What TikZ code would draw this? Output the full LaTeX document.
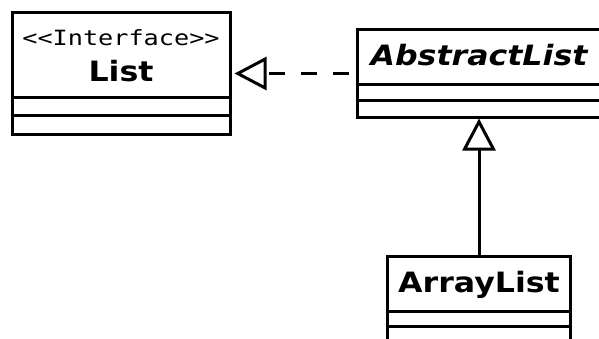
\documentclass[tikz,border=0pt]{standalone}
\usepackage{fontspec}
\setsansfont{DejaVu Sans}[FakeStretch=1.13]
\setmonofont{DejaVu Sans Mono}[FakeStretch=1.2]
\usetikzlibrary{arrows.meta}
\tikzset{
  umlclass/.style={draw, line width=3pt, inner sep=0pt},
  classname/.style={font=\sffamily\bfseries\fontsize{28}{28}\selectfont, inner sep=0pt},
  stereotype/.style={font=\ttfamily\fontsize{21}{21}\selectfont, inner sep=0pt},
  realize/.style={line width=3pt, dash pattern=on 16pt off 16pt, dash phase=25pt,
    -{Triangle[open, length=32pt, width=33pt]}, shorten >=3pt},
  inherit/.style={line width=3pt, -{Triangle[open, length=32pt, width=33pt]}}
}
\begin{document}
\begin{tikzpicture}[x=1pt, y=1pt]
\fill[white] (0,0) rectangle (599,338);
\useasboundingbox (0,0) rectangle (599,338);
\node[umlclass, minimum width=218pt, minimum height=121pt] (list) at (121,264.5) {};
\draw[line width=3pt] (list.north west) ++(0,-86) -- ++(218,0)
                      (list.north west) ++(0,-104) -- ++(218,0);
\node[stereotype, anchor=base] (liststereo) at ([yshift=-34pt]list.north) {<<Interface>>};
\node[classname, anchor=base] (listname) at ([yshift=-70pt]list.north) {List};
\node[umlclass, minimum width=244pt, minimum height=87pt] (abstract) at (479,264.5) {};
\draw[line width=3pt] (abstract.north west) ++(0,-56) -- ++(244,0)
                      (abstract.north west) ++(0,-72) -- ++(244,0);
\node[classname, anchor=base] (abstractname) at ([yshift=-37pt]abstract.north) {\itshape AbstractList};
\node[umlclass, minimum width=183pt, minimum height=89pt] (arraylist) at (479,37.5) {};
\draw[line width=3pt] (arraylist.north west) ++(0,-57) -- ++(183,0)
                      (arraylist.north west) ++(0,-72) -- ++(183,0);
\node[classname, anchor=base] (arraylistname) at ([yshift=-38pt]arraylist.north) {ArrayList};
\draw[realize] (abstract) -- (list);
\draw[inherit] (arraylist) -- (abstract);
\end{tikzpicture}
\end{document}
